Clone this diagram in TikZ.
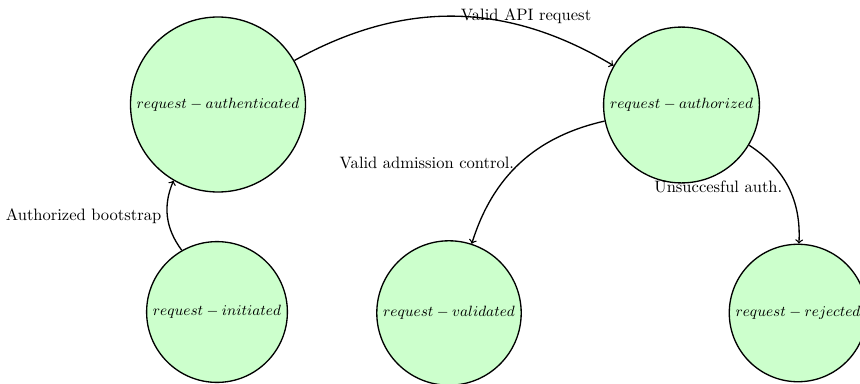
\documentclass[tikz,border=0pt]{standalone}
\usetikzlibrary{arrows}
\begin{document}
\begin{tikzpicture}[x=0.605pt, y=0.605pt,
  state/.style={circle, draw=black, thick, fill=green!20, font=\small},
  trans/.style={->, thick}]
\useasboundingbox (0,0) rectangle (860,383);
\node[state] (auth)  at (218,278.5) {$request-authenticated$};
\node[state] (authz) at (681.5,278) {$request-authorized$};
\node[state] (init)  at (217,71)    {$request-initiated$};
\node[state] (valid) at (449,70)    {$request-validated$};
\node[state] (rej)   at (798,70)    {$request-rejected$};
\draw[trans] (init)  to[bend left] node[midway, left]  {Authorized bootstrap} (auth);
\draw[trans] (auth)  to[bend left] node[midway, right] {Valid API request} (authz);
\draw[trans] (authz) to[bend right] node[midway, left] {Valid admission control.} (valid);
\draw[trans] (authz) to[bend left] node[midway, left]  {Unsuccesful auth.} (rej);
\end{tikzpicture}
\end{document}
